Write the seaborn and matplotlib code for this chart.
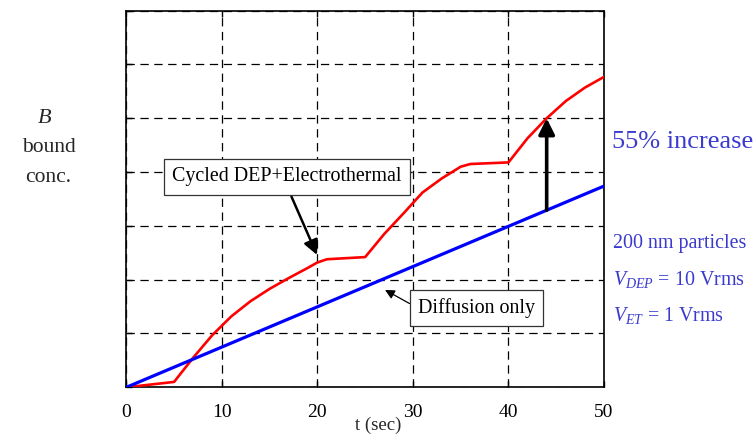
import numpy as np
import pandas as pd
import matplotlib
matplotlib.use("Agg")
import matplotlib.pyplot as plt
import seaborn as sns

# Bound concentration vs time (arbitrary units)
t_cycled = [0, 5, 7, 9, 11, 13, 15, 17, 19, 20, 21, 25, 27, 29, 31, 33, 35, 36, 40, 42, 44, 46, 48, 50]
b_cycled = [0, 0.10, 0.55, 0.97, 1.32, 1.60, 1.83, 2.03, 2.22, 2.32, 2.38, 2.42, 2.85, 3.23, 3.62, 3.88,
            4.10, 4.15, 4.18, 4.63, 5.00, 5.32, 5.57, 5.77]
t_diffusion = [0, 50]
b_diffusion = [0, 3.74]
x_ticks = [0, 10, 20, 30, 40, 50]
compare_t = 44

sns.set_theme(style="white")
plt.rcParams["font.family"] = ["Liberation Serif", "DejaVu Serif"]
plt.rcParams["mathtext.fontset"] = "custom"
plt.rcParams["mathtext.rm"] = "Liberation Serif"
plt.rcParams["mathtext.it"] = "Liberation Serif:italic"
plt.rcParams["lines.scale_dashes"] = False

cycled = pd.DataFrame({"t": t_cycled, "B": b_cycled})
diffusion = pd.DataFrame({"t": t_diffusion, "B": b_diffusion})

fig = plt.figure(figsize=(7.55, 4.36), dpi=100)
ax = fig.add_axes([0.1673, 0.1117, 0.6327, 0.8638])

sns.lineplot(data=cycled, x="t", y="B", color="#ff0000", lw=1.9, ax=ax, zorder=3)
sns.lineplot(data=diffusion, x="t", y="B", color="#0000ff", lw=2.3, ax=ax, zorder=4)

ax.set_xlim(0, 50)
ax.set_ylim(0, 7)
ax.set_xticks(x_ticks)
ax.set_xticklabels([str(v) for v in x_ticks], fontsize=14, color="black")
ax.set_yticks(np.arange(0, 8))
ax.set_yticklabels([])
ax.set_xlabel("")
ax.set_ylabel("")
ax.tick_params(axis="both", direction="in", length=4, width=1, color="black",
               top=True, right=False, bottom=True, left=True)
ax.tick_params(axis="x", pad=12)
ax.grid(True, color="black", lw=0.9, linestyle=(0, (6, 4)))
for s in ax.spines.values():
    s.set_color("black")
    s.set_linewidth(1.2)

# Vertical arrow showing the gain at t = 44 s
b_low = np.interp(compare_t, t_diffusion, b_diffusion)
b_high = np.interp(compare_t, t_cycled, b_cycled)
ax.annotate("", xy=(compare_t, b_high), xytext=(compare_t, b_low),
            arrowprops=dict(arrowstyle="-|>", color="black", lw=2.6, mutation_scale=24,
                            shrinkA=0, shrinkB=0), zorder=5)

ax.annotate("Cycled DEP+Electrothermal", xy=(19.96, 2.46), xytext=(16.82, 3.91),
            ha="center", va="center", fontsize=14.4, color="black",
            bbox=dict(boxstyle="square,pad=0.42", fc="white", ec="#333333", lw=0.9),
            arrowprops=dict(arrowstyle="-|>", color="black", lw=1.8, mutation_scale=22,
                            relpos=(0.5, 0), shrinkA=1, shrinkB=0), zorder=6)
ax.annotate("Diffusion only", xy=(27.08, 1.81), xytext=(36.65, 1.47),
            ha="center", va="center", fontsize=14.4, color="black",
            bbox=dict(boxstyle="square,pad=0.4", fc="white", ec="#333333", lw=0.9),
            arrowprops=dict(arrowstyle="-|>", color="black", lw=0.9, mutation_scale=14,
                            relpos=(0, 0.5), shrinkA=0, shrinkB=0), zorder=6)

fig.text(378 / 755, 1 - 425 / 436, "t (sec)", ha="center", va="center", fontsize=13.5)

# y-axis label
fig.text(45 / 755, 1 - 118 / 436, "$B$", ha="center", va="center", fontsize=16)
fig.text(49 / 755, 1 - 147 / 436, "bound", ha="center", va="center", fontsize=15.5)
fig.text(48 / 755, 1 - 177 / 436, "conc.", ha="center", va="center", fontsize=15.5)

note = "#3a3acf"
fig.text(612 / 755, 1 - 148 / 436, "55% increase", ha="left", va="baseline", fontsize=19, color=note)
fig.text(613 / 755, 1 - 248 / 436, "200 nm particles", ha="left", va="baseline", fontsize=14.4, color=note)
fig.text(613 / 755, 1 - 285 / 436, "$V_{DEP}$ = 10 Vrms", ha="left", va="baseline", fontsize=14.4, color=note)
fig.text(613 / 755, 1 - 321 / 436, "$V_{ET}$ = 1 Vrms", ha="left", va="baseline", fontsize=14.4, color=note)

fig.savefig("out.png", dpi=100, facecolor="white")
